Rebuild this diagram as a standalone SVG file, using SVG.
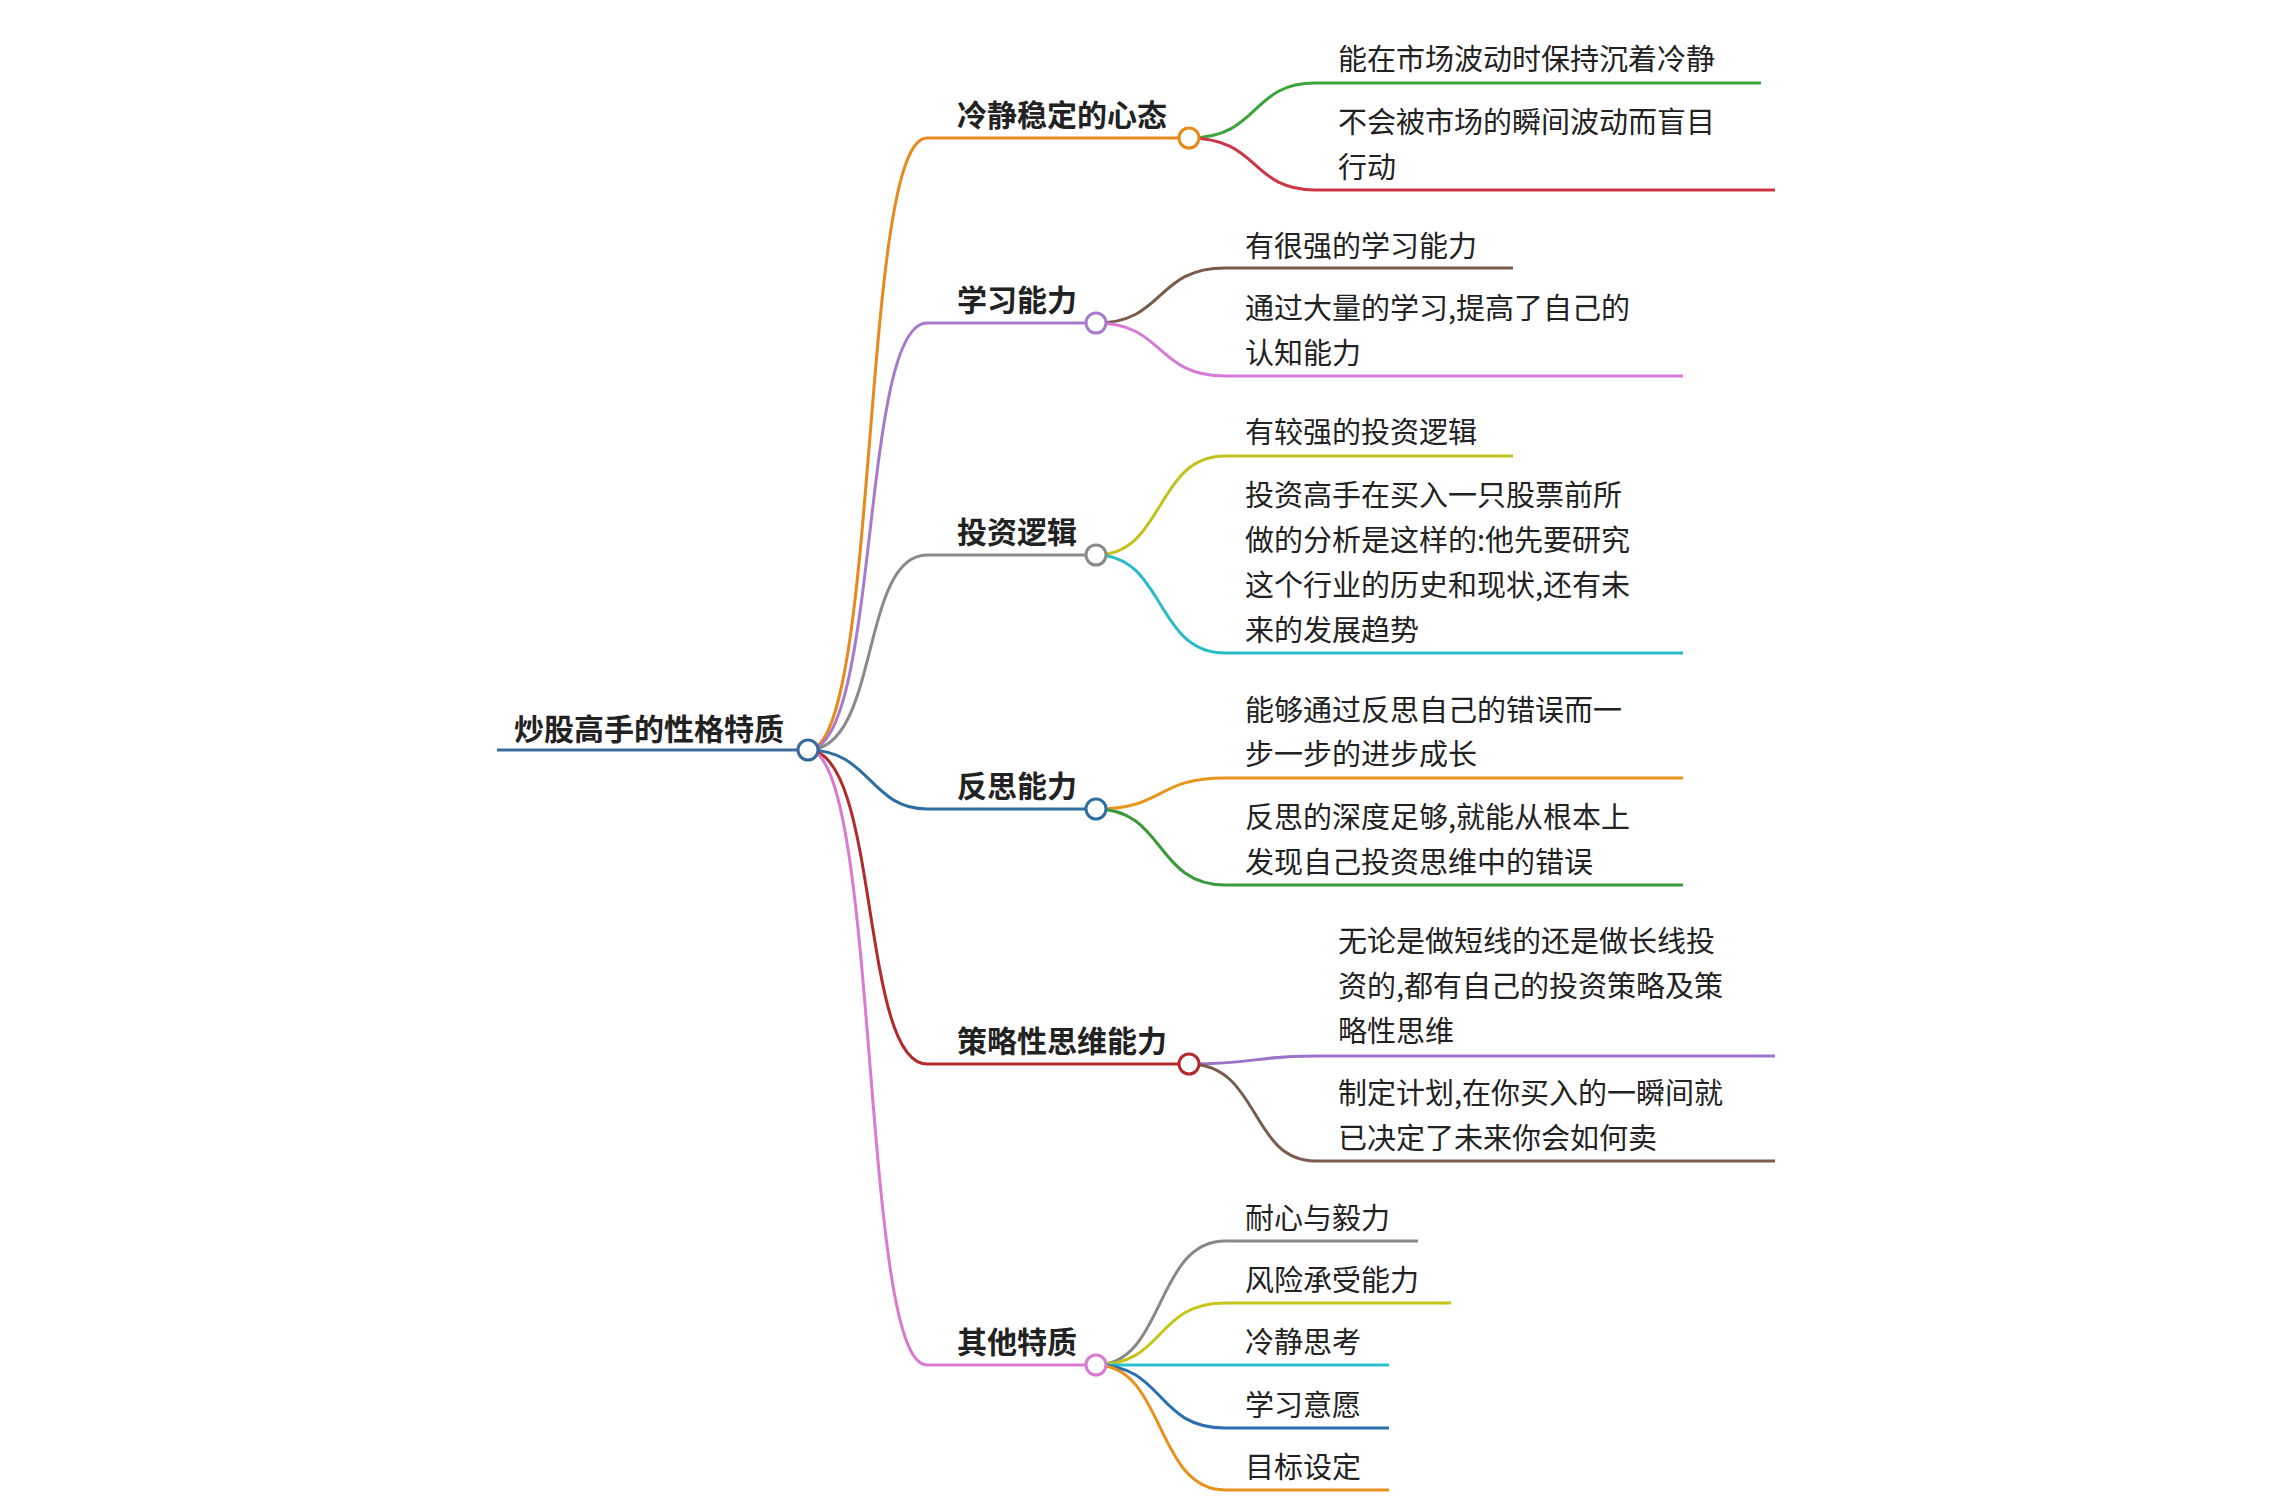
<svg xmlns="http://www.w3.org/2000/svg" width="2270" height="1510" viewBox="0 0 2270 1510">
<style>
text{font-family:"Noto Sans CJK SC","Noto Sans",sans-serif;fill:#222}
.b{font-size:30px;font-weight:bold}
.l{font-size:29px}
path{fill:none;stroke-width:3}
circle{fill:#fff;stroke-width:3}
</style>
<rect width="2270" height="1510" fill="#fff"/>
<g id="connectors">
<path d="M497 750H808" stroke="#3a6a9a"/>
<path d="M808 750C880 750 860 138 927 138H1189" stroke="#e8891c"/>
<path d="M808 750C880 750 860 323 927 323H1096" stroke="#a77bca"/>
<path d="M808 750C880 750 860 555 927 555H1096" stroke="#8a8a8a"/>
<path d="M808 750C870 750 870 809 927 809H1096" stroke="#2d6fa0"/>
<path d="M808 750C880 750 860 1064 927 1064H1189" stroke="#b22a2a"/>
<path d="M808 750C880 750 860 1365 927 1365H1096" stroke="#d97ad0"/>
<path d="M1189 138C1260 138 1250 83 1315 83H1761" stroke="#3aa53a"/>
<path d="M1189 138C1260 138 1250 190 1315 190H1775" stroke="#cf3545"/>
<path d="M1096 323C1165 323 1155 268 1225 268H1513" stroke="#7a5a4a"/>
<path d="M1096 323C1165 323 1155 376 1225 376H1683" stroke="#d67ad6"/>
<path d="M1096 555C1165 555 1155 456 1225 456H1513" stroke="#c2c21e"/>
<path d="M1096 555C1165 555 1155 653 1225 653H1683" stroke="#27bcc8"/>
<path d="M1096 809C1165 809 1155 778 1225 778H1683" stroke="#e8961c"/>
<path d="M1096 809C1165 809 1155 885 1225 885H1683" stroke="#3a9a3a"/>
<path d="M1189 1064C1260 1064 1250 1056 1315 1056H1775" stroke="#9b72c8"/>
<path d="M1189 1064C1260 1064 1250 1161 1315 1161H1775" stroke="#7b5a50"/>
<path d="M1096 1365C1165 1365 1155 1241 1225 1241H1418" stroke="#888"/>
<path d="M1096 1365C1165 1365 1155 1303 1225 1303H1451" stroke="#c6c61a"/>
<path d="M1096 1365H1389" stroke="#2bc0cc"/>
<path d="M1096 1365C1165 1365 1155 1428 1225 1428H1389" stroke="#2a6fb0"/>
<path d="M1096 1365C1165 1365 1155 1490 1225 1490H1389" stroke="#e8901c"/>
</g>
<g id="root"><circle cx="808" cy="750" r="10" stroke="#3a6a9a"/><text class="b" x="514" y="740">炒股高手的性格特质</text></g>
<g id="n1"><circle cx="1189" cy="138" r="10" stroke="#e8891c"/><text class="b" x="957" y="126">冷静稳定的心态</text></g>
<g id="n2"><circle cx="1096" cy="323" r="10" stroke="#a77bca"/><text class="b" x="957" y="311">学习能力</text></g>
<g id="n3"><circle cx="1096" cy="555" r="10" stroke="#8a8a8a"/><text class="b" x="957" y="543">投资逻辑</text></g>
<g id="n4"><circle cx="1096" cy="809" r="10" stroke="#2d6fa0"/><text class="b" x="957" y="797">反思能力</text></g>
<g id="n5"><circle cx="1189" cy="1064" r="10" stroke="#b22a2a"/><text class="b" x="957" y="1052">策略性思维能力</text></g>
<g id="n6"><circle cx="1096" cy="1365" r="10" stroke="#d97ad0"/><text class="b" x="957" y="1353">其他特质</text></g>
<g id="l1a"><text class="l" x="1338" y="70">能在市场波动时保持沉着冷静</text></g>
<g id="l1b"><text class="l" x="1338" y="133">不会被市场的瞬间波动而盲目</text><text class="l" x="1338" y="178">行动</text></g>
<g id="l2a"><text class="l" x="1245" y="257">有很强的学习能力</text></g>
<g id="l2b"><text class="l" x="1245" y="319">通过大量的学习,提高了自己的</text><text class="l" x="1245" y="364">认知能力</text></g>
<g id="l3a"><text class="l" x="1245" y="443">有较强的投资逻辑</text></g>
<g id="l3b"><text class="l" x="1245" y="506">投资高手在买入一只股票前所</text><text class="l" x="1245" y="551">做的分析是这样的:他先要研究</text><text class="l" x="1245" y="596">这个行业的历史和现状,还有未</text><text class="l" x="1245" y="641">来的发展趋势</text></g>
<g id="l4a"><text class="l" x="1245" y="721">能够通过反思自己的错误而一</text><text class="l" x="1245" y="765">步一步的进步成长</text></g>
<g id="l4b"><text class="l" x="1245" y="828">反思的深度足够,就能从根本上</text><text class="l" x="1245" y="873">发现自己投资思维中的错误</text></g>
<g id="l5a"><text class="l" x="1338" y="952">无论是做短线的还是做长线投</text><text class="l" x="1338" y="997">资的,都有自己的投资策略及策</text><text class="l" x="1338" y="1042">略性思维</text></g>
<g id="l5b"><text class="l" x="1338" y="1104">制定计划,在你买入的一瞬间就</text><text class="l" x="1338" y="1149">已决定了未来你会如何卖</text></g>
<g id="l6a"><text class="l" x="1245" y="1229">耐心与毅力</text></g>
<g id="l6b"><text class="l" x="1245" y="1291">风险承受能力</text></g>
<g id="l6c"><text class="l" x="1245" y="1353">冷静思考</text></g>
<g id="l6d"><text class="l" x="1245" y="1416">学习意愿</text></g>
<g id="l6e"><text class="l" x="1245" y="1478">目标设定</text></g>
</svg>
